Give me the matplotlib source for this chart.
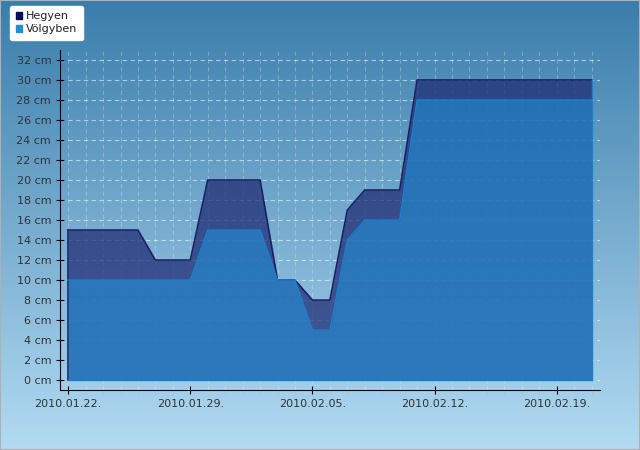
import numpy as np
import pandas as pd
import matplotlib
matplotlib.use('Agg')
import matplotlib.pyplot as plt
import matplotlib.dates as mdates
from matplotlib.patches import Rectangle
from matplotlib.colors import LinearSegmentedColormap

dates = pd.date_range('2010-01-22', '2010-02-21', freq='D')
hegyen = [15, 15, 15, 15, 15, 12, 12, 12, 20, 20, 20, 20, 10, 10, 8, 8,
          17, 19, 19, 19, 30, 30, 30, 30, 30, 30, 30, 30, 30, 30, 30]
volgyben = [10, 10, 10, 10, 10, 10, 10, 10, 15, 15, 15, 15, 10, 10, 5, 5,
            14, 16, 16, 16, 28, 28, 28, 28, 28, 28, 28, 28, 28, 28, 28]
series_names = ['Hegyen', 'Völgyben']
yticks = list(range(0, 33, 2))

fig = plt.figure(figsize=(6.4, 4.5), dpi=100)

# gradient background
bg = fig.add_axes([0, 0, 1, 1], zorder=-10)
cmap = LinearSegmentedColormap.from_list('bg', ['#3a7dab', '#b3dbf3'])
bg.imshow(np.linspace(0, 1, 256).reshape(-1, 1), aspect='auto', cmap=cmap,
          extent=[0, 1, 0, 1])
bg.set_axis_off()
fig.patches.append(Rectangle((0, 0), 1, 1, transform=fig.transFigure,
                             fill=False, edgecolor='#b0b0b0', lw=1.5))

ax = fig.add_axes([0.094, 0.133, 0.844, 0.756])
ax.patch.set_alpha(0)

ax.fill_between(dates, hegyen, color='#1e2972', alpha=0.72, lw=0, zorder=2)
ax.plot(dates, hegyen, color='#1a2266', lw=1.2, zorder=3)
ax.fill_between(dates, volgyben, color='#1f90d6', alpha=0.6, lw=0, zorder=4)
ax.plot(dates, volgyben, color='#1c80d0', lw=1, zorder=5)
ax.plot([dates[0], dates[0]], [0, hegyen[0]], color='#1a2266', lw=1.2, zorder=3)
ax.plot([dates[-1], dates[-1]], [0, hegyen[-1]], color='#1c80d0', lw=1, zorder=5)
ax.plot([dates[0], dates[-1]], [0, 0], color='#1c80d0', lw=1, zorder=5)

ax.set_xlim(dates[0] - pd.Timedelta(hours=11), dates[-1] + pd.Timedelta(hours=12))
ax.set_ylim(-1, 33)
ax.set_yticks(yticks)
ax.set_yticklabels([f'{v} cm' for v in yticks])
ax.xaxis.set_major_locator(mdates.DayLocator(bymonthday=[22, 29, 5, 12, 19]))
ax.xaxis.set_minor_locator(mdates.DayLocator())
ax.xaxis.set_major_formatter(mdates.DateFormatter('%Y.%m.%d.'))

ax.grid(axis='y', color='white', alpha=0.55, ls=(0, (4, 3)), lw=0.8, zorder=1)
ax.grid(axis='x', which='both', color='white', alpha=0.25, ls=(0, (4, 3)), lw=0.8, zorder=1)

for s in ['top', 'right']:
    ax.spines[s].set_visible(False)
for s in ['left', 'bottom']:
    ax.spines[s].set_color('black')
ax.tick_params(axis='both', which='major', direction='inout', length=6,
               labelsize=8, labelcolor='#333333', color='black')
ax.tick_params(axis='x', which='minor', direction='out', length=3, color='#9cc6e0')

handles = [Rectangle((0, 0), 1, 1, color='#0b0b5e'),
           Rectangle((0, 0), 1, 1, color='#1e90d8')]
leg = fig.legend(handles, series_names, loc='upper left', bbox_to_anchor=(0.016, 0.987),
                 fontsize=8, frameon=True, fancybox=True, handlelength=0.6,
                 handleheight=0.6, handletextpad=0.35, labelspacing=0.25,
                 borderpad=0.5, borderaxespad=0)
leg.get_frame().set_facecolor('white')
leg.get_frame().set_alpha(1)
leg.get_frame().set_edgecolor('white')
for t in leg.get_texts():
    t.set_color('#222222')

fig.savefig('out.png', dpi=100)
